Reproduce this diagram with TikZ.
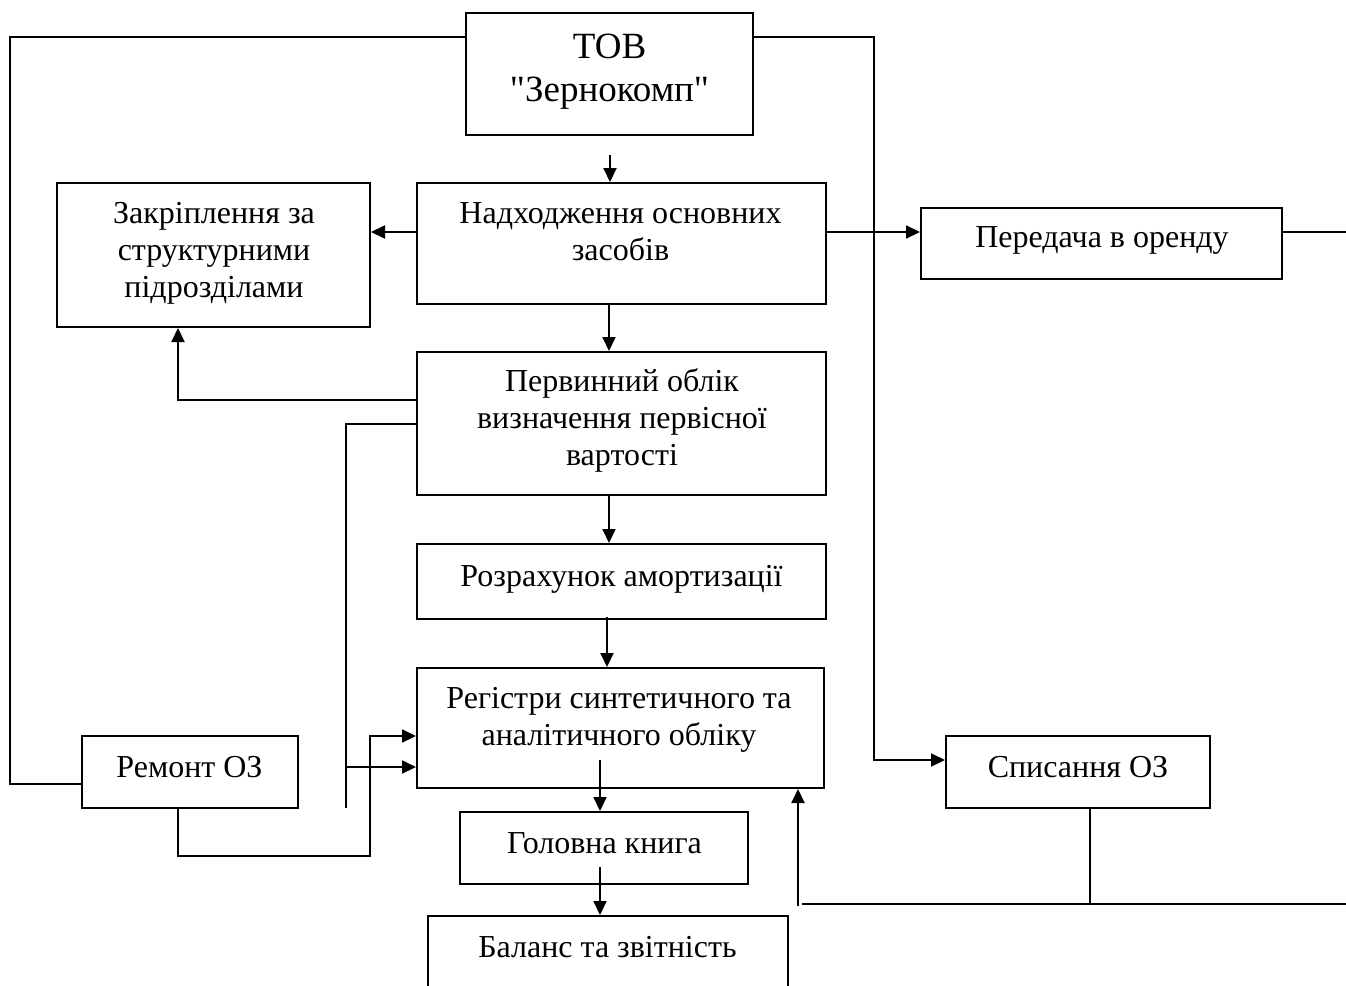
\documentclass[tikz,border=0pt]{standalone}
\usepackage{fontspec}
\setmainfont{Liberation Serif}[Ligatures=TeXOff]
\usetikzlibrary{arrows.meta}
\newcommand\TS{\rule{0pt}{28pt}}
\newcommand\BS{\rule[-28pt]{0pt}{28pt}}
\tikzset{
  box/.style={draw, line width=2pt, inner sep=0pt},
  txt/.style={inner sep=0pt, align=center, font=\fontsize{32}{37}\selectfont},
  conn/.style={line width=2pt},
  arr/.style={conn, -{Triangle[length=14pt,width=13pt]}},
}
\begin{document}
\begin{tikzpicture}[x=1pt,y=-1pt]
\useasboundingbox (0,0) rectangle (1346,985);
% boxes
\node[box, minimum width=287pt, minimum height=122pt] (tov)    at (609.5,74) {};
\node[box, minimum width=409pt, minimum height=121pt] (nadkh)  at (621.5,243.5) {};
\node[box, minimum width=313pt, minimum height=144pt] (zakrip) at (213.5,255) {};
\node[box, minimum width=361pt, minimum height=71pt]  (pered)  at (1101.5,243.5) {};
\node[box, minimum width=409pt, minimum height=143pt] (pervyn) at (621.5,423.5) {};
\node[box, minimum width=409pt, minimum height=75pt]  (rozr)   at (621.5,581.5) {};
\node[box, minimum width=407pt, minimum height=120pt] (regis)  at (620.5,728) {};
\node[box, minimum width=216pt, minimum height=72pt]  (remont) at (190,772) {};
\node[box, minimum width=264pt, minimum height=72pt]  (spys)   at (1078,772) {};
\node[box, minimum width=288pt, minimum height=72pt]  (holov)  at (604,848) {};
\node[box, minimum width=360pt, minimum height=100pt] (balans) at (608,966) {};
% texts
\node[txt, font=\fontsize{37}{43}\selectfont] (ttov) at (609.5,80) {\TS ТОВ\\"Зернокомп"\BS};
\node[txt] (tnadkh)  at (620.5,242) {\TS Надходження основних\\засобів\BS};
\node[txt] (tzakrip) at (214,260) {\TS Закріплення за\\структурними\\підрозділами\BS};
\node[txt] (tpered)  at (1102,247) {\TS Передача в оренду\BS};
\node[txt] (tpervyn) at (622,428.5) {\TS Первинний облік\\визначення первісної\\вартості\BS};
\node[txt] (trozr)   at (621.5,586) {\TS Розрахунок амортизації\BS};
\node[txt] (tregis)  at (619,727) {\TS Регістри синтетичного та\\аналітичного обліку\BS};
\node[txt] (tremont) at (189.5,777) {\TS Ремонт ОЗ\BS};
\node[txt] (tspys)   at (1078,777) {\TS Списання ОЗ\BS};
\node[txt] (tholov)  at (604.5,853) {\TS Головна книга\BS};
\node[txt] (tbalans) at (607.5,957) {\TS Баланс та звітність\BS};
% free ends
\coordinate (c1) at (610,155);
\coordinate (c2) at (1346,232);
\coordinate (c3) at (600,760);
\coordinate (c4) at (600,867);
\coordinate (c5) at (1090,904);
\coordinate (c6) at (802,904);
\coordinate (c7) at (1346,904);
\coordinate (c8) at (798,906);
\coordinate (c9) at (346,808);
\coordinate (c10) at (607,617);
% connectors
\draw[conn] (tov.west |- 0,37) -| (10,784) -- (remont.west |- 0,784);
\draw[arr] (tov.east |- 0,37) -| (874,760) -- (spys.west |- 0,760);
\draw[arr] (c1) -- (c1 |- nadkh.north);
\draw[arr] (nadkh.west |- 0,232) -- (zakrip.east |- 0,232);
\draw[arr] (nadkh.east |- 0,232) -- (pered.west |- 0,232);
\draw[conn] (pered.east |- c2) -- (c2);
\draw[arr] (nadkh.south -| 609,0) -- (pervyn.north -| 609,0);
\draw[arr] (pervyn.west |- 0,400) -| (zakrip.south -| 178,0);
\draw[conn] (pervyn.west |- 0,424) -| (c9);
\draw[arr] (346,767) -- (regis.west |- 0,767);
\draw[arr] (remont.south -| 178,0) |- (370,856) |- (regis.west |- 0,736);
\draw[arr] (pervyn.south -| 609,0) -- (rozr.north -| 609,0);
\draw[arr] (c10) -- (c10 |- regis.north);
\draw[arr] (c3) -- (c3 |- holov.north);
\draw[arr] (c4) -- (c4 |- balans.north);
\draw[conn] (spys.south -| c5) -- (c5);
\draw[conn] (c6) -- (c7);
\draw[arr] (c8) -- (c8 |- regis.south);
\end{tikzpicture}
\end{document}
